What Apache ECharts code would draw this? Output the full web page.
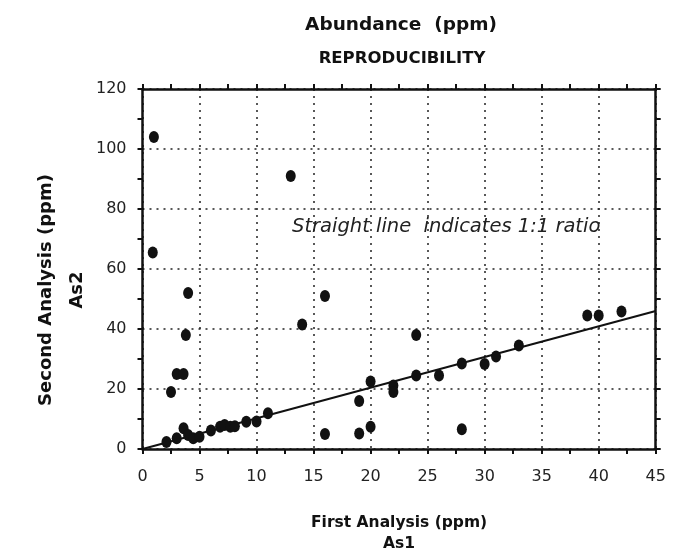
<!DOCTYPE html>
<html>
<head>
<meta charset="utf-8">
<script src="https://cdn.jsdelivr.net/npm/echarts@6/dist/echarts.min.js"></script>
<style>
html,body{margin:0;padding:0;background:#fff;}
#main{width:679px;height:557px;}
</style>
</head>
<body>
<div id="main"></div>
<script>
var firstAnalysis = [1.0, 0.9, 13.0, 4.0, 3.8, 3.0, 3.6, 2.5, 16.0, 14.0, 16.0,
  2.1, 3.0, 3.6, 4.0, 4.45, 5.0, 6.0, 6.8, 7.2, 7.7, 8.1, 9.1, 10.0, 11.0,
  24.0, 20.0, 22.0, 22.0, 24.0, 26.0, 28.0, 19.0, 19.0, 20.0, 28.0,
  30.0, 31.0, 33.0, 39.0, 40.0, 42.0];
var secondAnalysis = [104, 65.5, 91, 52, 38, 25, 25, 19, 51, 41.5, 5,
  2.3, 3.6, 6.9, 4.7, 3.6, 4.1, 6.2, 7.4, 8.0, 7.4, 7.6, 9.1, 9.2, 11.9,
  38, 22.5, 21.2, 19, 24.5, 24.5, 28.5, 16, 5.2, 7.4, 6.6,
  28.3, 30.8, 34.5, 44.5, 44.5, 45.8];
var ratioLineX = [0, 45];
var ratioLineY = [0, 46];
var xTicks = [0, 5, 10, 15, 20, 25, 30, 35, 40, 45];
var yTicks = [0, 20, 40, 60, 80, 100, 120];

var FONT = "'DejaVu Sans', sans-serif";
var pts = firstAnalysis.map(function (x, i) { return [x, secondAnalysis[i]]; });
var linePts = ratioLineX.map(function (x, i) { return [x, ratioLineY[i]]; });

var chart = echarts.init(document.getElementById('main'));
var axisLine = { show: true, onZero: false, lineStyle: { color: '#111', width: 2.5 } };
var tick = { show: true, inside: false, length: 5, lineStyle: { color: '#111', width: 2 } };
var minor = { show: true, splitNumber: 2, length: 5, lineStyle: { color: '#111', width: 2 } };
chart.setOption({
  animation: false,
  backgroundColor: '#fff',
  title: [
    { text: 'Abundance  (ppm)', left: 396, top: 11, textAlign: 'center',
      textStyle: { fontFamily: FONT, fontSize: 18.5, fontWeight: 'bold', color: '#111' } },
    { text: 'REPRODUCIBILITY', left: 397, top: 45, textAlign: 'center',
      textStyle: { fontFamily: FONT, fontSize: 16.5, fontWeight: 'bold', color: '#111' } }
  ],
  grid: { left: 142.5, right: 23.3, top: 89, bottom: 108, containLabel: false, outerBoundsMode: 'none' },
  xAxis: [{
    type: 'value', min: xTicks[0], max: xTicks[xTicks.length - 1], interval: 5,
    position: 'bottom',
    name: 'First Analysis (ppm)\nAs1', nameLocation: 'middle', nameGap: 63, nameMoveOverlap: false,
    nameTextStyle: { fontFamily: FONT, fontSize: 15.5, fontWeight: 'bold', color: '#111', lineHeight: 21 },
    axisLine: axisLine, axisTick: tick, minorTick: minor,
    axisLabel: { margin: 20, fontFamily: FONT, fontSize: 16, color: '#222' },
    splitLine: { show: true, lineStyle: { color: '#222', type: [2, 5], width: 1.5 } }
  }, {
    type: 'value', min: xTicks[0], max: xTicks[xTicks.length - 1], interval: 5,
    position: 'top',
    axisLine: axisLine, axisTick: tick, minorTick: minor,
    axisLabel: { show: false },
    splitLine: { show: false }
  }],
  yAxis: [{
    type: 'value', min: yTicks[0], max: yTicks[yTicks.length - 1], interval: 20,
    position: 'left',
    name: 'Second Analysis (ppm)\nAs2', nameLocation: 'middle', nameGap: 50, nameRotate: 90,
    nameMoveOverlap: false,
    nameTextStyle: { fontFamily: FONT, fontSize: 18, fontWeight: 'bold', color: '#111',
      lineHeight: 31, padding: [0, 42, 0, 0] },
    axisLine: axisLine, axisTick: tick, minorTick: minor,
    axisLabel: { margin: 16, fontFamily: FONT, fontSize: 16, color: '#222' },
    splitLine: { show: true, lineStyle: { color: '#222', type: [2, 5], width: 1.5 } }
  }, {
    type: 'value', min: yTicks[0], max: yTicks[yTicks.length - 1], interval: 20,
    position: 'right',
    axisLine: axisLine, axisTick: tick, minorTick: minor,
    axisLabel: { show: false },
    splitLine: { show: false }
  }],
  graphic: [{
    type: 'text', left: 292, top: 217,
    style: { text: 'Straight line  indicates 1:1 ratio', fontFamily: FONT, fontSize: 19.5,
      fontStyle: 'italic', fill: '#222' }
  }],
  series: [{
    type: 'line', data: linePts, showSymbol: false, symbol: 'none',
    lineStyle: { color: '#111', width: 2 }, z: 3
  }, {
    type: 'scatter', data: pts, symbol: 'circle', symbolSize: [10, 12],
    itemStyle: { color: '#111', opacity: 1 }, z: 4
  }]
});
</script>
</body>
</html>
